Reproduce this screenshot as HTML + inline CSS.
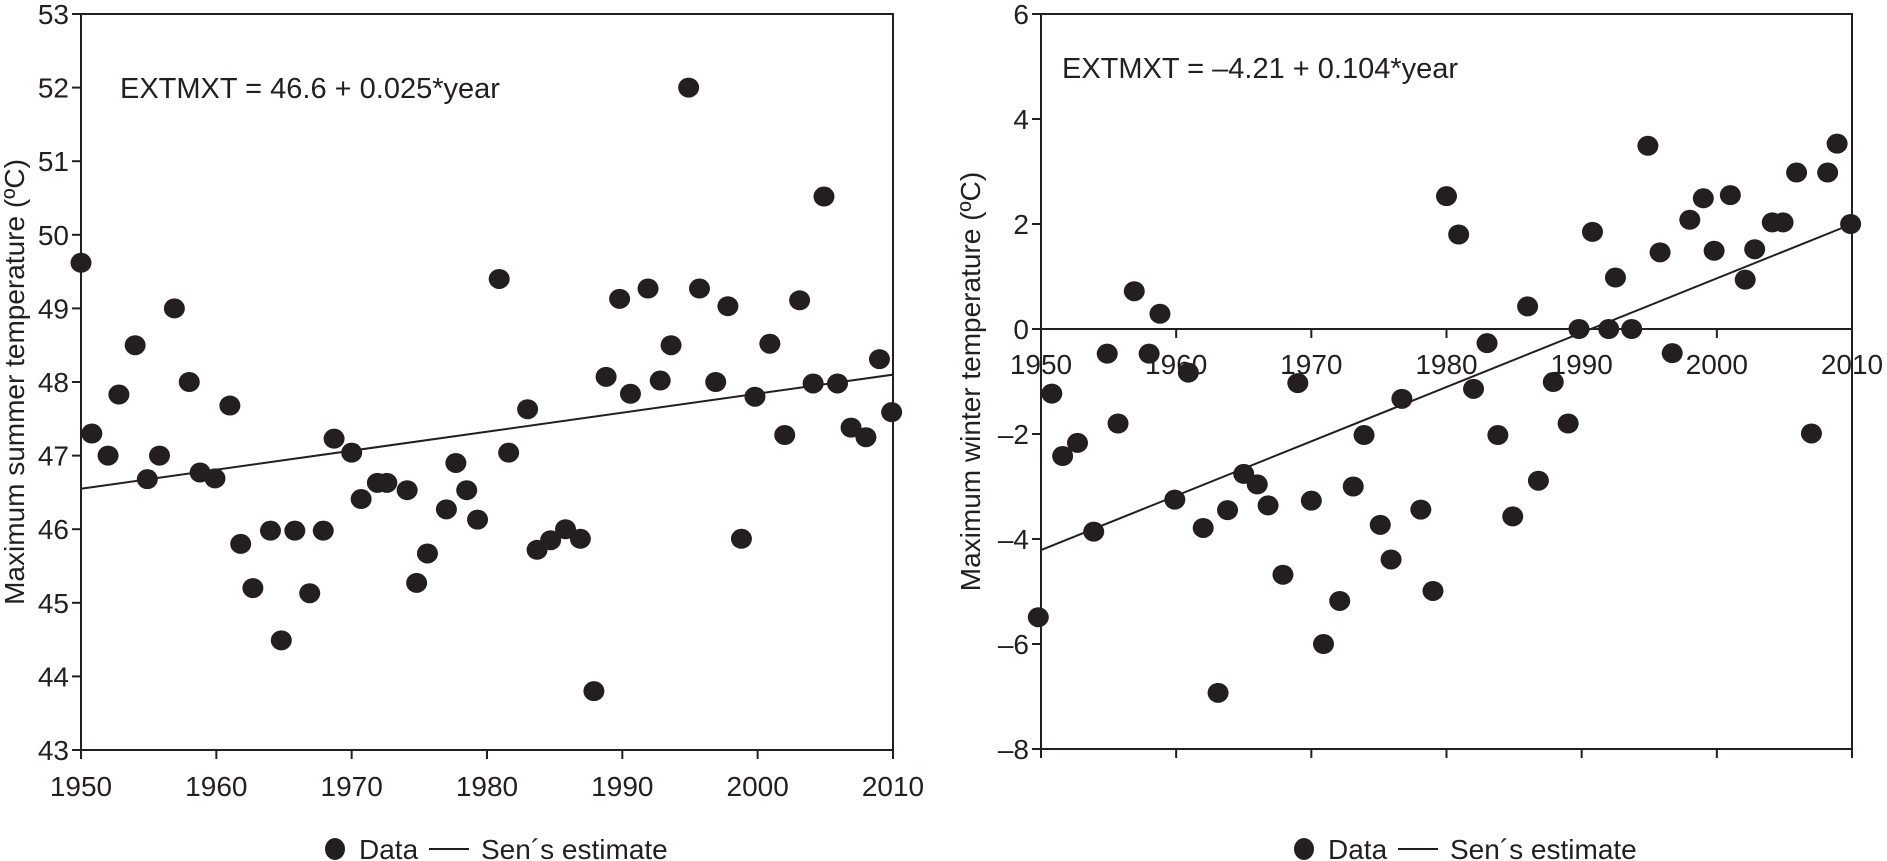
<!DOCTYPE html>
<html><head><meta charset="utf-8"><style>
body{margin:0;background:#fff;}
svg{display:block;font-family:"Liberation Sans",sans-serif;}
</style></head><body>
<svg id="chart" width="1887" height="861"></svg>
<script>
const leftYears=[1950,1950.8,1952,1952.8,1954,1954.9,1955.8,1956.9,1958,1958.8,1959.9,1961,1961.8,1962.7,1964,1964.8,1965.8,1966.9,1967.9,1968.7,1970,1970.7,1971.9,1972.6,1974.1,1974.8,1975.6,1977,1977.7,1978.5,1979.3,1980.9,1981.6,1983,1983.7,1984.7,1985.8,1986.9,1987.9,1988.8,1989.8,1990.6,1991.9,1992.8,1993.6,1994.9,1995.7,1996.9,1997.8,1998.8,1999.8,2000.9,2002,2003.1,2004.1,2004.9,2005.9,2006.9,2008,2009,2009.9];
const leftValues=[49.62,47.3,47.0,47.83,48.5,46.68,47.0,49.0,48.0,46.77,46.69,47.68,45.8,45.2,45.98,44.49,45.98,45.13,45.98,47.23,47.04,46.41,46.63,46.63,46.53,45.27,45.67,46.27,46.9,46.53,46.13,49.4,47.04,47.63,45.72,45.85,46.0,45.87,43.8,48.07,49.13,47.84,49.27,48.02,48.5,52.0,49.27,48.0,49.03,45.87,47.8,48.52,47.28,49.11,47.98,50.52,47.98,47.38,47.25,48.31,47.59];
const leftTrend=[46.55,48.1];
const leftYTicks=[43,44,45,46,47,48,49,50,51,52,53];
const rightYears=[1949.8,1950.8,1951.6,1952.7,1953.9,1954.9,1955.7,1956.9,1958,1958.8,1959.9,1960.9,1962,1963.1,1963.8,1965,1966,1966.8,1967.9,1969,1970,1970.9,1972.1,1973.1,1973.9,1975.1,1975.9,1976.7,1978.1,1979,1980,1980.9,1982,1983,1983.8,1984.9,1986,1986.8,1987.9,1989,1989.8,1990.8,1992,1992.5,1993.7,1994.9,1995.8,1996.7,1998,1999,1999.8,2001,2002.1,2002.8,2004.1,2004.9,2005.9,2007,2008.2,2008.9,2009.9];
const rightValues=[-5.49,-1.23,-2.42,-2.17,-3.86,-0.47,-1.8,0.72,-0.47,0.29,-3.25,-0.83,-3.79,-6.93,-3.45,-2.76,-2.96,-3.36,-4.68,-1.03,-3.27,-6.0,-5.18,-3.0,-2.02,-3.73,-4.39,-1.33,-3.44,-4.99,2.53,1.8,-1.14,-0.27,-2.02,-3.57,0.43,-2.89,-1.01,-1.8,0,1.85,0,0.98,0,3.49,1.46,-0.46,2.08,2.49,1.49,2.55,0.94,1.52,2.03,2.03,2.98,-1.99,2.98,3.53,2.0];
const rightTrend=[-4.21,2.0];
const rightYTicks=[-8,-6,-4,-2,0,2,4,6];
const xTickLabels=[1950,1960,1970,1980,1990,2000,2010];

const svg=document.getElementById('chart');
const NS='http://www.w3.org/2000/svg';
function mk(tag,attrs,parent){const e=document.createElementNS(NS,tag);for(const k in attrs)e.setAttribute(k,attrs[k]);(parent||svg).appendChild(e);return e;}
function txt(s,attrs,parent){const e=mk('text',attrs,parent);e.textContent=s;return e;}

function panel(cfg){
  const g=mk('g',{});
  
  
  const sx=y=>cfg.x0+(y-1950)/60*(cfg.x1-cfg.x0);
  const sy=v=>cfg.yb+(v-cfg.vmin)/(cfg.vmax-cfg.vmin)*(cfg.yt-cfg.yb);
  const frame=mk('rect',{x:cfg.x0,y:cfg.yt,width:cfg.x1-cfg.x0,height:cfg.yb-cfg.yt,fill:'none',stroke:'#231f20','stroke-width':2},g);
  
  
  cfg.yticks.forEach(v=>{
    mk('line',{x1:cfg.x0-9,x2:cfg.x0,y1:sy(v),y2:sy(v),stroke:'#231f20','stroke-width':2},g);
    const t=txt(v<0?'\u2013'+Math.abs(v):String(v),{x:cfg.x0-12,y:sy(v)+10,'font-size':28,'text-anchor':'end',fill:'#231f20'},g);
    
    
  });
  xTickLabels.forEach(yr=>{
    mk('line',{x1:sx(yr),x2:sx(yr),y1:cfg.yb,y2:cfg.yb+9,stroke:'#231f20','stroke-width':2},g);
    if(cfg.zero){mk('line',{x1:sx(yr),x2:sx(yr),y1:sy(0),y2:sy(0)+9,stroke:'#231f20','stroke-width':2},g);}
    const ly=cfg.zero?sy(0)+45:cfg.yb+46;
    const t=txt(String(yr),{x:sx(yr),y:ly,'font-size':28,'text-anchor':'middle',fill:'#231f20'},g);
    
    
  });
  if(cfg.zero){
    const z=mk('line',{x1:cfg.x0,x2:cfg.x1,y1:sy(0),y2:sy(0),stroke:'#231f20','stroke-width':2},g);
    
    
  }
  const tl=mk('line',{x1:sx(1950),y1:sy(cfg.trend[0]),x2:sx(2010),y2:sy(cfg.trend[1]),stroke:'#231f20','stroke-width':2},g);
  
  
  cfg.years.forEach((yr,i)=>{
    const c=mk('ellipse',{cx:sx(yr),cy:sy(cfg.vals[i]),rx:10.5,ry:10,fill:'#231f20'},g);
    
    
  });
  const eq=txt(cfg.eq,{x:cfg.eqx,y:cfg.eqy,'font-size':29,fill:'#231f20'},g);
  
  
  const cy=(cfg.yt+cfg.yb)/2;
  const at=txt(cfg.ytitle,{x:cfg.tx,y:cy,'font-size':28,'text-anchor':'middle',fill:'#231f20',transform:`rotate(-90 ${cfg.tx} ${cy})`},g);
  
  
  const lg=mk('g',{},g);
  
  
  mk('ellipse',{cx:cfg.lx,cy:849,rx:10,ry:11,fill:'#231f20'},lg);
  txt('Data',{x:cfg.lx+24,y:859,'font-size':28,fill:'#231f20'},lg);
  mk('line',{x1:cfg.lx+94,x2:cfg.lx+134,y1:849,y2:849,stroke:'#231f20','stroke-width':2},lg);
  txt('Sen\u00b4s estimate',{x:cfg.lx+146,y:859,'font-size':28,fill:'#231f20'},lg);
}
panel({name:'summer-panel',x0:81,x1:893,yt:14,yb:750,vmin:43,vmax:53,yticks:leftYTicks,years:leftYears,vals:leftValues,trend:leftTrend,zero:false,eq:'EXTMXT = 46.6 + 0.025*year',eqx:120,eqy:98,ytitle:'Maximum summer temperature (ºC)',tx:24,lx:335});
panel({name:'winter-panel',x0:1041,x1:1852,yt:14,yb:749,vmin:-8,vmax:6,yticks:rightYTicks,years:rightYears,vals:rightValues,trend:rightTrend,zero:true,eq:'EXTMXT = \u20134.21 + 0.104*year',eqx:1062,eqy:78,ytitle:'Maximum winter temperature (ºC)',tx:980,lx:1304});
</script>
</body></html>
